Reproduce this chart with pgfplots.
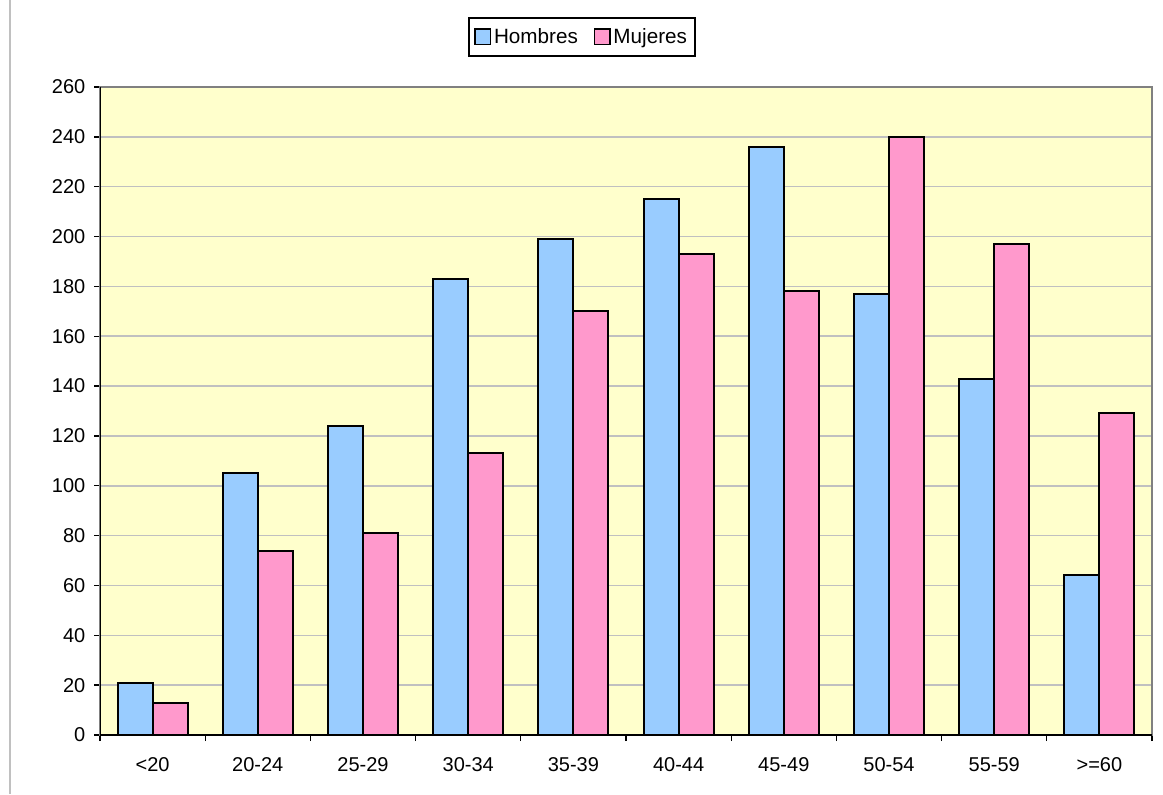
\documentclass[border=0pt]{standalone}
\usepackage{fontspec}
\setmainfont{Liberation Sans}
\usepackage{pgfplots}
\usepackage{pgfplotstable}
\pgfplotsset{compat=1.18}
\definecolor{hombres}{HTML}{99CCFF}
\definecolor{mujeres}{HTML}{FF99CC}
\definecolor{plotbg}{HTML}{FFFFCC}
\definecolor{gridgray}{HTML}{C0C0C0}
\definecolor{framegray}{HTML}{808080}

% edad: 0=<20 ... 9=>=60
\pgfplotstableread{
x h m
0 21 13
1 105 74
2 124 81
3 183 113
4 199 170
5 215 193
6 236 178
7 177 240
8 143 197
9 64 129
}\datos

\begin{document}
\begin{tikzpicture}
\useasboundingbox (-75pt,-44.25pt) rectangle (797.25pt,551.25pt);
\draw[gridgray, line width=1.5pt] (-67.5pt,-44.25pt) -- (-67.5pt,551.25pt);
\begin{axis}[
  at={(0pt,0pt)}, anchor=south west,
  scale only axis, width=789pt, height=486pt,
  ymin=0, ymax=260, ytick={0,20,...,260},
  xmin=-0.5, xmax=9.5,
  xtick={-0.5,0.5,...,9.5},
  x tick label as interval,
  xticklabels={<20,20-24,25-29,30-34,35-39,40-44,45-49,50-54,55-59,>=60},
  tick align=outside, tick pos=left,
  major tick length=4.5pt,
  tick style={black, line width=1pt},
  ybar=0pt, bar width=0.333,
  axis background/.style={fill=plotbg},
  ymajorgrids, grid style={gridgray, line width=1.2pt},
  axis line style={framegray, line width=1.2pt},
  ticklabel style={font=\fontsize{15}{17}\selectfont, black},
  xticklabel style={yshift=-9pt},
  yticklabel style={xshift=-3pt},
  /pgf/number format/assume math mode=true,
  legend columns=2,
  legend style={at={(0.4582,1.0772)}, anchor=center, draw=black, line width=1.2pt,
    font=\fontsize{15.5}{18}\selectfont, inner xsep=4pt, inner ysep=6pt,
    /tikz/every even column/.append style={column sep=10pt}},
  legend image code/.code={\draw[#1, line width=1.2pt] (0pt,-5.5pt) rectangle (11.5pt,6pt);},
]
\addplot[fill=hombres, draw=black, line width=1.5pt] table[x=x, y=h] {\datos};
\addplot[fill=mujeres, draw=black, line width=1.5pt] table[x=x, y=m] {\datos};
\legend{Hombres, Mujeres}
\draw[black, line width=1.5pt] (rel axis cs:0,1) -- (rel axis cs:0,0) -- (rel axis cs:1,0);
\end{axis}
\end{tikzpicture}
\end{document}
